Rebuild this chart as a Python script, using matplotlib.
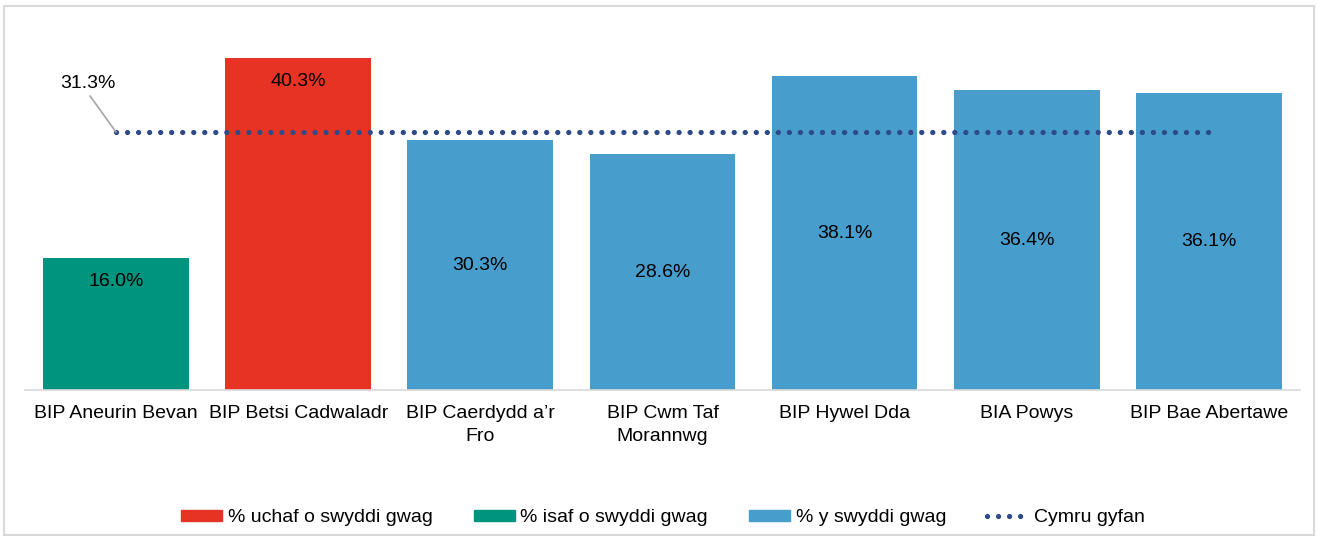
import numpy as np
import matplotlib.pyplot as plt
from matplotlib.patches import Patch, Rectangle
from matplotlib.lines import Line2D

plt.rcParams['font.family'] = ['Liberation Sans', 'DejaVu Sans']

categories = ["BIP Aneurin Bevan", "BIP Betsi Cadwaladr", "BIP Caerdydd a\u2019r\nFro",
              "BIP Cwm Taf\nMorannwg", "BIP Hywel Dda", "BIA Powys", "BIP Bae Abertawe"]
values = [16.0, 40.3, 30.3, 28.6, 38.1, 36.4, 36.1]
kinds = ["low", "high", "mid", "mid", "mid", "mid", "mid"]
wales = 31.3

colours = {"high": "#E63323", "low": "#00937E", "mid": "#479DCB"}
line_colour = "#2E4A87"
legend_labels = ["% uchaf o swyddi gwag", "% isaf o swyddi gwag",
                 "% y swyddi gwag", "Cymru gyfan"]

fs = 14
dots = (0, (0.01, 2.08))
dot_lw = 3.8

fig = plt.figure(figsize=(13.17, 5.37), dpi=100)
ax = fig.add_axes([0.019, 0.274, 0.968, 0.690])

x = np.arange(len(categories))
ax.bar(x, values, width=0.8, color=[colours[k] for k in kinds], zorder=2)

# labels: end of bar for highest/lowest, centre for the rest
for xi, v, k in zip(x, values, kinds):
    y = v / 2 if k == "mid" else v - 2.8
    ax.text(xi, y, f"{v:.1f}%", ha="center", va="center", fontsize=fs)

ax.plot(x, [wales] * len(x), linestyle=dots, dash_capstyle="round",
        linewidth=dot_lw, color=line_colour, zorder=3)
ax.text(-0.155, 37.2, f"{wales:.1f}%", ha="center", va="center", fontsize=fs)
ax.annotate("", xy=(0, wales), xytext=(-0.143, 35.7),
            arrowprops=dict(arrowstyle="-", color="#A6A6A6", lw=1.2,
                            shrinkA=0, shrinkB=0))

ax.set_xlim(-0.5, len(x) - 0.5)
ax.set_ylim(0, 45)
ax.set_xticks(x)
ax.set_xticklabels(categories, fontsize=fs, linespacing=1.48)
ax.tick_params(axis="x", length=0, pad=11)
ax.set_yticks([])
for s in ["top", "left", "right"]:
    ax.spines[s].set_visible(False)
ax.spines["bottom"].set_color("#D9D9D9")
ax.spines["bottom"].set_linewidth(1.2)

handles = [Patch(color=colours["high"]), Patch(color=colours["low"]),
           Patch(color=colours["mid"]),
           Line2D([], [], linestyle=dots, dash_capstyle="round",
                  linewidth=dot_lw, color=line_colour)]
fig.legend(handles, legend_labels, loc="center", bbox_to_anchor=(0.5034, 0.036),
           ncol=4, frameon=False, fontsize=fs, handlelength=2.1,
           handleheight=0.5, columnspacing=2.1, handletextpad=0.3)

fig.patches.append(Rectangle((4 / 1317, 2 / 537), 1310 / 1317, 529 / 537,
                             transform=fig.transFigure, fill=False,
                             edgecolor="#D9D9D9", linewidth=1.5))

fig.savefig("out.png", dpi=100)
